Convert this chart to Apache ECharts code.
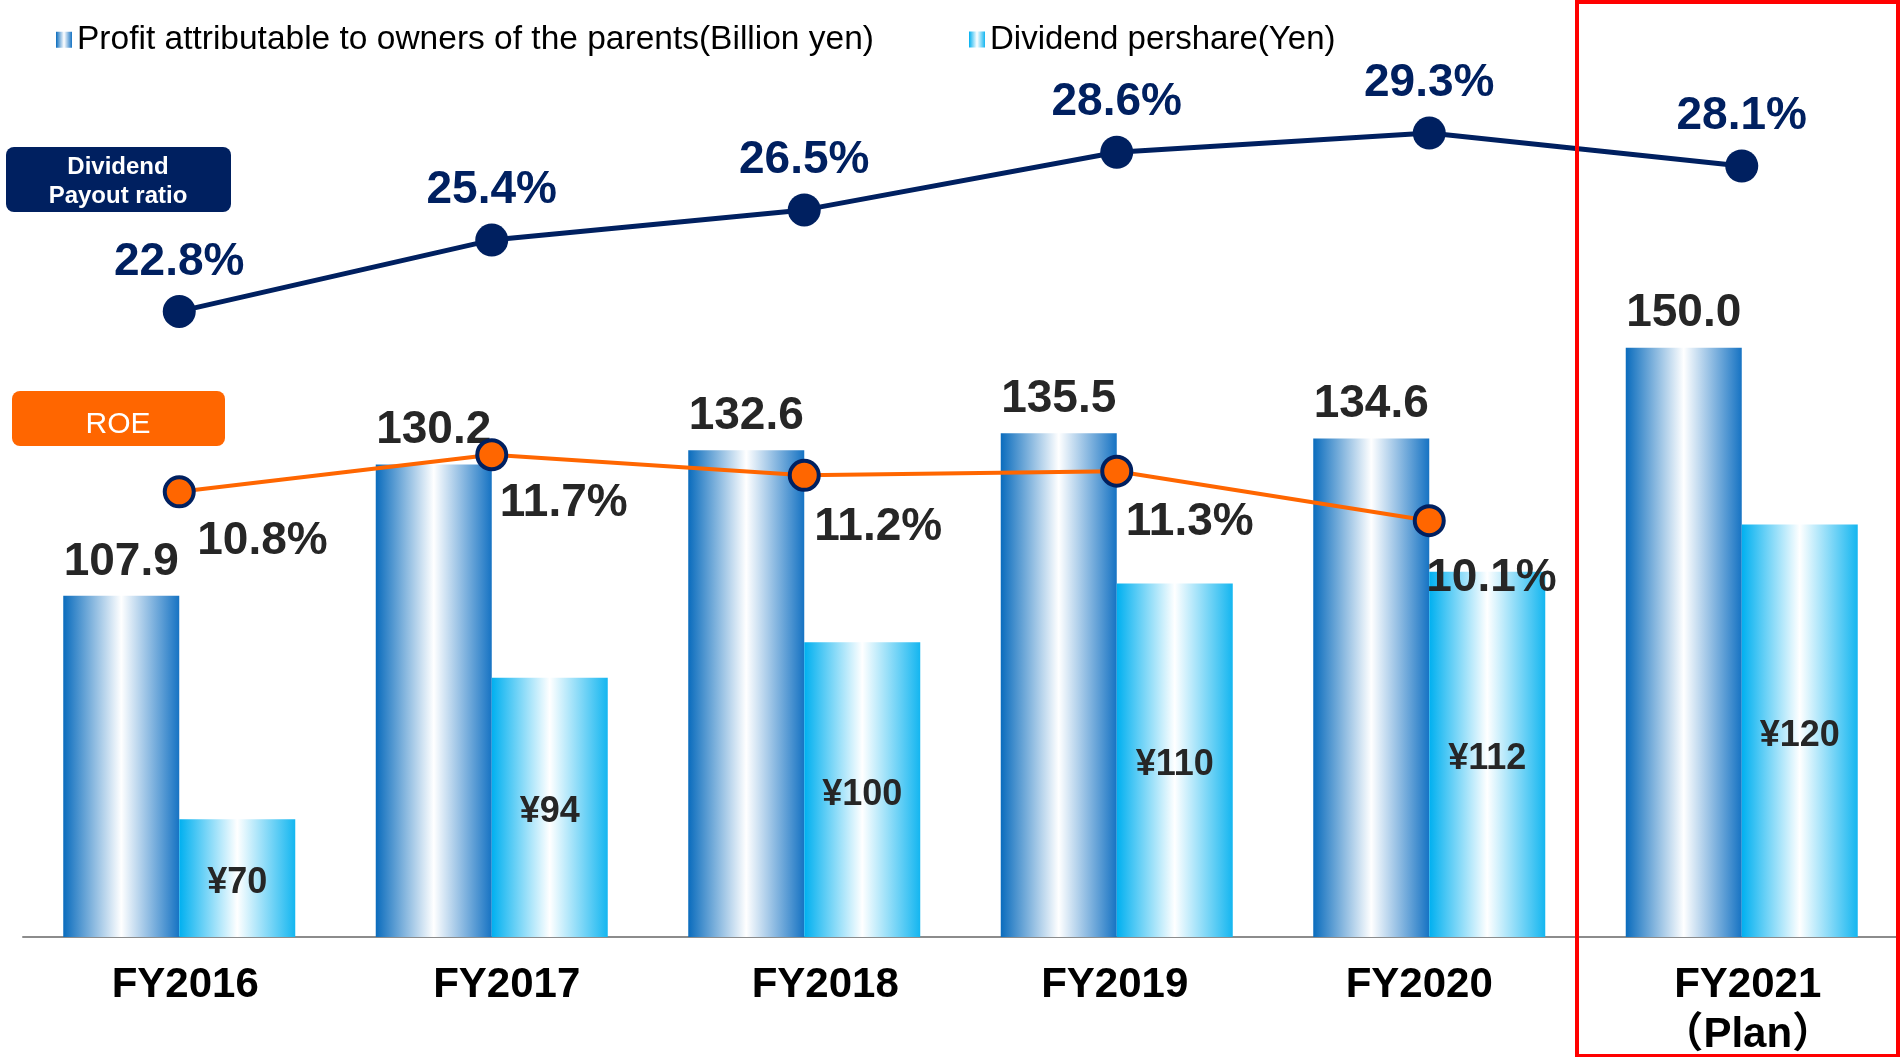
<!DOCTYPE html>
<html>
<head>
<meta charset="utf-8">
<title>Profit, dividend and payout ratio</title>
<script src="https://cdn.jsdelivr.net/npm/echarts@6/dist/echarts.min.js"></script>
<style>
html, body { margin: 0; padding: 0; background: #fff; }
#main { width: 1900px; height: 1057px; }
</style>
</head>
<body>
<div id="main"></div>
<script>
// data
var years = ['FY2016', 'FY2017', 'FY2018', 'FY2019', 'FY2020', 'FY2021\n（Plan）'];
var profit = [107.9, 130.2, 132.6, 135.5, 134.6, 150.0];
var dividend = [70, 94, 100, 110, 112, 120];
var payoutRatio = [22.8, 25.4, 26.5, 28.6, 29.3, 28.1];
var roe = [10.8, 11.7, 11.2, 11.3, 10.1, '-'];

var profitName = 'Profit attributable to owners of the parents(Billion yen)';
var dividendName = 'Dividend pershare(Yen)';

// label nudges (px): ROE percentages and the year labels
var roeLabelShift = [[18, 49], [8, 49], [10, 52], [9, 51], [-3, 58]];
var yearLabelShift = [6, 15, 21, -2, -10, 6];

var FONT = '"Liberation Sans", Arial, "Noto Sans CJK JP", sans-serif';
var NAVY = '#002060';
var ORANGE = '#ff6600';

function hGrad(stops) {
    return new echarts.graphic.LinearGradient(0, 0, 1, 0, stops);
}
var darkBar = hGrad([
    { offset: 0, color: '#0a6cbd' },
    { offset: 0.5, color: '#ffffff' },
    { offset: 1, color: '#1673c3' }
]);
var lightBar = hGrad([
    { offset: 0, color: '#00b0f0' },
    { offset: 0.5, color: '#ffffff' },
    { offset: 1, color: '#14b6f0' }
]);

var roeData = roe.map(function (v, i) {
    if (v === '-') return '-';
    return { value: v, label: { offset: roeLabelShift[i] } };
});

var yearData = years.map(function (y, i) {
    var dx = yearLabelShift[i];
    var pad = dx >= 0 ? [0, 0, 0, 2 * dx] : [0, -2 * dx, 0, 0];
    return { value: y, textStyle: { padding: pad } };
});

var chart = echarts.init(document.getElementById('main'));

var option = {
    animation: false,
    backgroundColor: '#fff',
    textStyle: { fontFamily: FONT },
    legend: [
        {
            left: 56, top: 23, padding: 0,
            icon: 'rect', itemWidth: 16, itemHeight: 16,
            data: [profitName],
            textStyle: { fontSize: 33.5, color: '#000', fontFamily: FONT }
        },
        {
            left: 969, top: 23, padding: 0,
            icon: 'rect', itemWidth: 16, itemHeight: 16,
            data: [dividendName],
            textStyle: { fontSize: 33, color: '#000', fontFamily: FONT }
        }
    ],
    grid: { left: 23, right: 2, top: 59, bottom: 120, outerBoundsMode: 'none', containLabel: false },
    xAxis: {
        type: 'category',
        data: yearData,
        axisTick: { show: false },
        axisLine: { lineStyle: { color: '#8c8c8c', width: 2 } },
        axisLabel: {
            margin: 23,
            fontSize: 42,
            fontWeight: 'bold',
            color: '#000',
            lineHeight: 50,
            fontFamily: FONT
        },
        splitLine: { show: false }
    },
    yAxis: [
        { type: 'value', min: 50, max: 199, show: false, splitLine: { show: false } },
        { type: 'value', min: 0, max: 32, show: false, splitLine: { show: false } },
        { type: 'value', min: 0, max: 21.3, show: false, splitLine: { show: false } }
    ],
    series: [
        {
            name: profitName,
            type: 'bar',
            data: profit,
            barWidth: 116,
            barGap: '0%',
            itemStyle: { color: darkBar },
            label: {
                show: true,
                position: 'top',
                distance: 11,
                fontSize: 46,
                fontWeight: 'bold',
                color: '#262626',
                fontFamily: FONT,
                formatter: function (p) { return p.value.toFixed(1); }
            }
        },
        {
            name: dividendName,
            type: 'bar',
            data: dividend,
            barWidth: 116,
            barGap: '0%',
            itemStyle: { color: lightBar },
            label: {
                show: true,
                position: 'inside',
                offset: [0, 5],
                fontSize: 36,
                fontWeight: 'bold',
                color: '#262626',
                fontFamily: FONT,
                formatter: function (p) { return '¥' + p.value; }
            }
        },
        {
            name: 'Dividend payout ratio',
            type: 'line',
            yAxisIndex: 1,
            data: payoutRatio,
            symbol: 'circle',
            symbolSize: 33,
            showAllSymbol: true,
            z: 5,
            lineStyle: { color: NAVY, width: 5 },
            itemStyle: { color: NAVY },
            label: {
                show: true,
                position: 'top',
                distance: 10,
                fontSize: 46,
                fontWeight: 'bold',
                color: NAVY,
                fontFamily: FONT,
                formatter: function (p) { return p.value.toFixed(1) + '%'; }
            }
        },
        {
            name: 'ROE',
            type: 'line',
            yAxisIndex: 2,
            data: roeData,
            symbol: 'circle',
            symbolSize: 29,
            showAllSymbol: true,
            z: 5,
            lineStyle: { color: ORANGE, width: 4 },
            itemStyle: { color: ORANGE, borderColor: NAVY, borderWidth: 4 },
            label: {
                show: true,
                position: 'inside',
                align: 'left',
                verticalAlign: 'middle',
                fontSize: 46,
                fontWeight: 'bold',
                color: '#262626',
                fontFamily: FONT,
                formatter: function (p) { return p.value.toFixed(1) + '%'; }
            }
        }
    ],
    graphic: [
        {
            type: 'rect', left: 6, top: 147, z: 10,
            shape: { width: 225, height: 65, r: 8 },
            style: { fill: NAVY }
        },
        {
            type: 'text', z: 11, x: 118, y: 167,
            style: {
                text: 'Dividend', fill: '#fff',
                font: 'bold 24px ' + FONT,
                textAlign: 'center', textVerticalAlign: 'middle'
            }
        },
        {
            type: 'text', z: 11, x: 118, y: 196,
            style: {
                text: 'Payout ratio', fill: '#fff',
                font: 'bold 24px ' + FONT,
                textAlign: 'center', textVerticalAlign: 'middle'
            }
        },
        {
            type: 'rect', left: 12, top: 391, z: 10,
            shape: { width: 213, height: 55, r: 8 },
            style: { fill: ORANGE }
        },
        {
            type: 'text', z: 11, x: 118, y: 425,
            style: {
                text: 'ROE', fill: '#fff',
                font: '30px ' + FONT,
                textAlign: 'center', textVerticalAlign: 'middle'
            }
        },
        {
            type: 'rect', z: 50, silent: true,
            shape: { x: 1577, y: 2, width: 321, height: 1054 },
            style: { fill: 'none', stroke: '#ff0000', lineWidth: 4 }
        }
    ]
};

chart.setOption(option);
</script>
</body>
</html>
